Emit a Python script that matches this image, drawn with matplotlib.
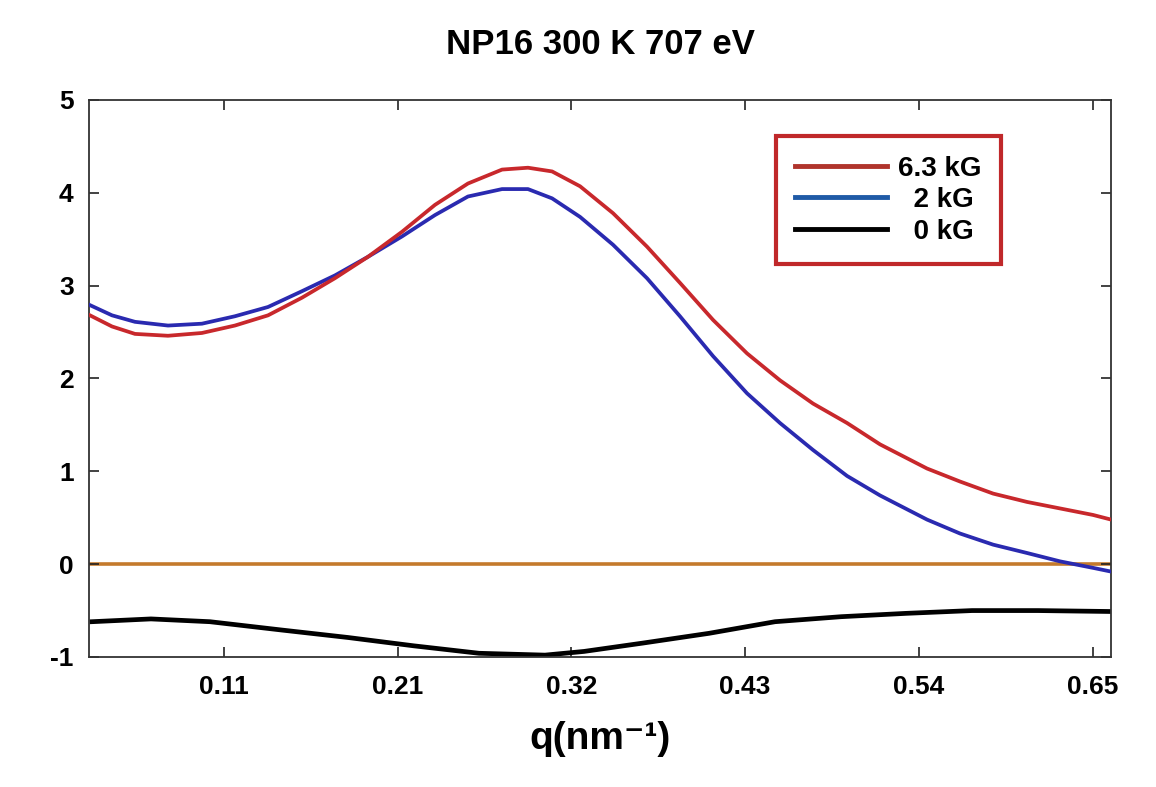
import matplotlib.pyplot as plt
from matplotlib.lines import Line2D

plt.rcParams['font.family'] = ['Liberation Sans', 'DejaVu Sans']
plt.rcParams['font.weight'] = 'bold'
plt.rcParams['axes.unicode_minus'] = False

# q values (nm^-1)
q_field = [0.0267, 0.0404, 0.0547, 0.0752, 0.0963, 0.1168, 0.1374, 0.1585,
           0.1790, 0.1995, 0.2207, 0.2412, 0.2617, 0.2829, 0.2990, 0.3140,
           0.3314, 0.3519, 0.3730, 0.3935, 0.4141, 0.4352, 0.4557, 0.4762,
           0.4974, 0.5179, 0.5471, 0.5676, 0.5882, 0.6093, 0.6298, 0.6503,
           0.6615]
signal_63kG = [2.68, 2.56, 2.48, 2.46, 2.49, 2.57, 2.68, 2.87, 3.08, 3.31,
               3.58, 3.87, 4.10, 4.25, 4.27, 4.23, 4.07, 3.78, 3.42, 3.03,
               2.63, 2.27, 1.98, 1.73, 1.52, 1.29, 1.03, 0.89, 0.76, 0.67,
               0.60, 0.53, 0.48]
signal_2kG = [2.79, 2.68, 2.61, 2.57, 2.59, 2.67, 2.77, 2.94, 3.11, 3.31,
              3.53, 3.76, 3.96, 4.04, 4.04, 3.94, 3.74, 3.44, 3.08, 2.67,
              2.24, 1.84, 1.52, 1.23, 0.95, 0.74, 0.48, 0.33, 0.21, 0.12,
              0.03, -0.04, -0.08]

q_zero = [0.0279, 0.0646, 0.1013, 0.1461, 0.1871, 0.2281, 0.2686, 0.3096,
          0.3339, 0.3705, 0.4116, 0.4526, 0.4937, 0.5341, 0.5751, 0.6161,
          0.6609]
signal_0kG = [-0.62, -0.59, -0.62, -0.71, -0.79, -0.88, -0.96, -0.98,
              -0.94, -0.85, -0.745, -0.62, -0.566, -0.53, -0.50, -0.50,
              -0.51]

x_tick_pos = [0.11, 0.218, 0.326, 0.434, 0.542, 0.65]
x_tick_labels = ['0.11', '0.21', '0.32', '0.43', '0.54', '0.65']
y_ticks = [-1, 0, 1, 2, 3, 4, 5]

fig = plt.figure(figsize=(11.56, 7.87), dpi=100)
ax = fig.add_axes([0.077, 0.1652, 0.8841, 0.7078])

ax.axhline(0, color='#c47a2c', lw=2.6, zorder=1)
ax.plot(q_zero, signal_0kG, color='black', lw=3.4, zorder=2)
ax.plot(q_field, signal_2kG, color='#2a2ab0', lw=2.7, zorder=3)
ax.plot(q_field, signal_63kG, color='#c8282c', lw=2.7, zorder=4)

ax.set_xlim(0.0261, 0.6615)
ax.set_ylim(-1, 5)
ax.set_xticks(x_tick_pos)
ax.set_xticklabels(x_tick_labels)
ax.set_yticks(y_ticks)
ax.tick_params(direction='in', top=True, right=True, length=7, width=1.2,
               labelsize=19, color='#222222')
ax.tick_params(axis='x', pad=13)
ax.tick_params(axis='y', pad=11)
for s in ax.spines.values():
    s.set_linewidth(1.3)
    s.set_color('#333333')

ax.set_title('NP16 300 K 707 eV', fontsize=25, fontweight='bold', pad=33)
ax.set_xlabel('q(nm\u207b\u00b9)', fontsize=28, fontweight='bold',
              labelpad=16)

handles = [Line2D([], [], color='#b0342c', lw=3.5),
           Line2D([], [], color='#1f5aa6', lw=3.5),
           Line2D([], [], color='black', lw=3.5)]
leg = ax.legend(handles, ['6.3 kG', '  2 kG', '  0 kG'],
                loc='upper left', bbox_to_anchor=(0.672, 0.935),
                fontsize=20, frameon=True, fancybox=False, framealpha=1,
                handlelength=3.3, handletextpad=0.4, labelspacing=0.2,
                borderpad=0.7, borderaxespad=0)
leg.get_frame().set_edgecolor('#c0282a')
leg.get_frame().set_linewidth(3)
for t in leg.get_texts():
    t.set_fontweight('bold')

fig.savefig('out.png', dpi=100)
